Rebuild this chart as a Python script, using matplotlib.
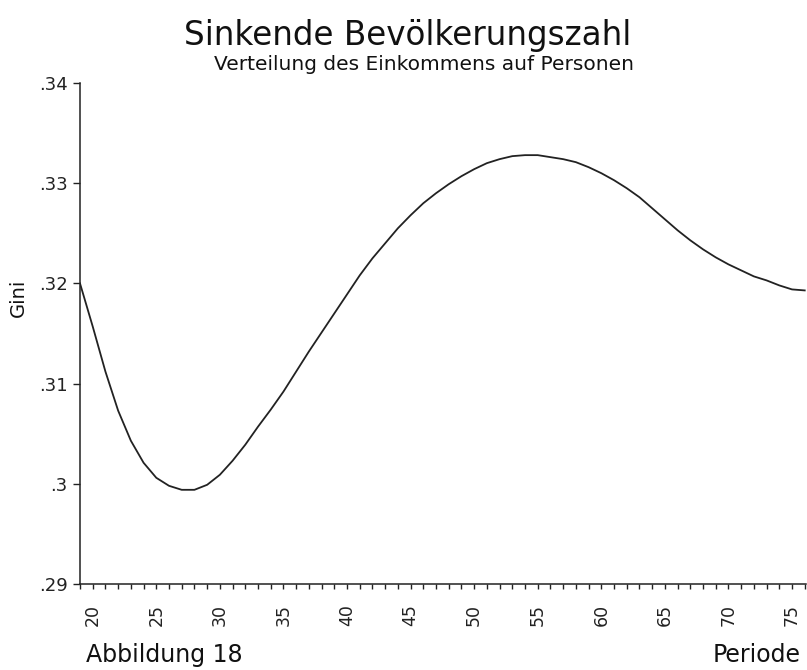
import matplotlib
matplotlib.use("Agg")
import matplotlib.pyplot as plt

periods = list(range(19, 77))
gini = [0.3200, 0.3157, 0.3112, 0.3073, 0.3043, 0.3021, 0.3006, 0.2998, 0.2994, 0.2994,
        0.2999, 0.3009, 0.3023, 0.3039, 0.3057, 0.3074, 0.3092, 0.3112, 0.3132, 0.3151,
        0.3170, 0.3189, 0.3208, 0.3225, 0.3240, 0.3255, 0.3268, 0.3280, 0.3290, 0.3299,
        0.3307, 0.3314, 0.3320, 0.3324, 0.3327, 0.3328, 0.3328, 0.3326, 0.3324, 0.3321,
        0.3316, 0.3310, 0.3303, 0.3295, 0.3286, 0.3275, 0.3264, 0.3253, 0.3243, 0.3234,
        0.3226, 0.3219, 0.3213, 0.3207, 0.3203, 0.3198, 0.3194, 0.3193]

ytick_vals = [0.29, 0.30, 0.31, 0.32, 0.33, 0.34]
ytick_labels = [".29", ".3", ".31", ".32", ".33", ".34"]
xtick_vals = [20, 25, 30, 35, 40, 45, 50, 55, 60, 65, 70, 75]

title = "Sinkende Bevölkerungszahl"
subtitle = "Verteilung des Einkommens auf Personen"

plt.rcParams['font.family'] = ['DejaVu Sans']

fig = plt.figure(figsize=(8.07, 6.70), dpi=100)
ax = fig.add_axes([80/807, 1-584/670, (806-80)/807, (584-83)/670])

ax.plot(periods, gini, color='#222222', lw=1.3, solid_joinstyle='round')
ax.set_xlim(19, 76.1)
ax.set_ylim(0.29, 0.34)

for s in ['top', 'right']:
    ax.spines[s].set_visible(False)
for s in ['left', 'bottom']:
    ax.spines[s].set_linewidth(1.1)
    ax.spines[s].set_color('#222222')

ax.set_yticks(ytick_vals)
ax.set_yticklabels(ytick_labels, fontsize=13)
ax.set_xticks(xtick_vals)
ax.set_xticklabels([str(v) for v in xtick_vals], rotation=90, fontsize=12.5)
ax.set_xticks(periods, minor=True)
ax.tick_params(axis='y', direction='out', length=5, width=1, pad=4, colors='#222222')
ax.tick_params(axis='x', which='both', direction='out', length=3.6, width=1, pad=11, colors='#222222')

fig.text(18/807, 1-298/670, "Gini", rotation=90, ha='center', va='center', fontsize=14, color='#111111')

fig.text(0.5055, 1-35/670, title, ha='center', va='center', fontsize=23.5, color='#111111')
fig.text(0.525, 1-65/670, subtitle, ha='center', va='center', fontsize=14.5, color='#111111')
fig.text(86/807, 1-662/670, "Abbildung 18", ha='left', va='baseline', fontsize=17, color='#111111')
fig.text(801/807, 1-662/670, "Periode", ha='right', va='baseline', fontsize=17, color='#111111')

fig.savefig("out.png", dpi=100)
